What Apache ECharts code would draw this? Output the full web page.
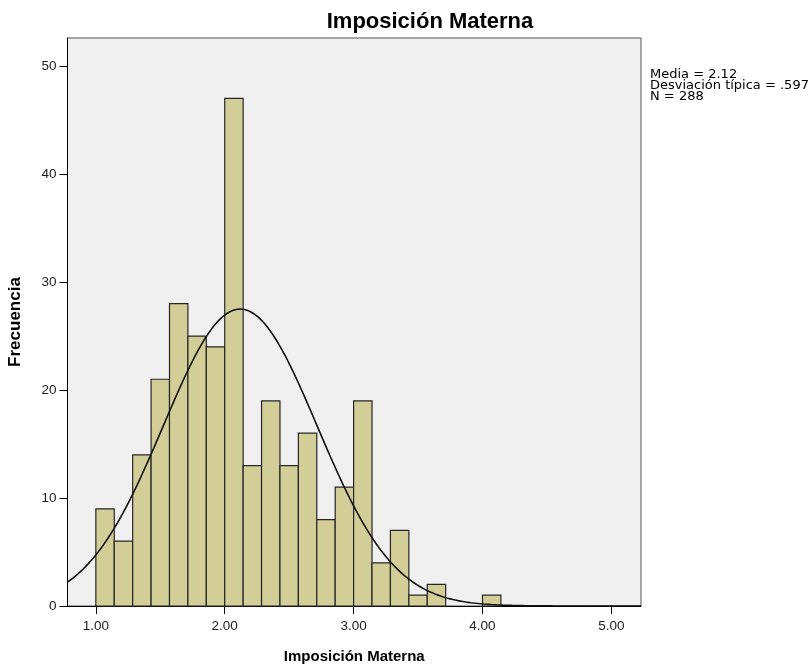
<!DOCTYPE html>
<html>
<head>
<meta charset="utf-8">
<script src="https://cdn.jsdelivr.net/npm/echarts@6/dist/echarts.min.js"></script>
<style>
html,body{margin:0;padding:0;background:#fff;}
#c{width:811px;height:667px;}
</style>
</head>
<body>
<div id="c"></div>
<script>
// ---- data ----
const chartTitle = 'Imposición Materna';
const xName = 'Imposición Materna';
const yName = 'Frecuencia';
const binStart = 1.0;
const binWidth = 1 / 7;
const counts = [9, 6, 14, 21, 28, 25, 24, 47, 13, 19, 13, 16, 8, 11, 19, 4, 7, 1, 2, 0, 0, 1];
const xTicks = [1, 2, 3, 4, 5];
const yTicks = [0, 10, 20, 30, 40, 50];
const statLines = ['Media = 2.12', 'Desviación típica = .597', 'N = 288'];
const mean = 2.12, sd = 0.597, nTotal = 288;
const xMin = 0.78, xMax = 5.23, yMax = 52.6;

// histogram bars: [lowEdge, highEdge, count]
const barData = counts.map((c, i) => [binStart + i * binWidth, binStart + (i + 1) * binWidth, c]).filter(d => d[2] > 0);

// fitted normal curve from the stated mean / sd / N
const curve = [];
for (let k = 0; k <= 445; k++) {
  const x = xMin + k * 0.01;
  const z = (x - mean) / sd;
  curve.push([x, nTotal * binWidth * Math.exp(-0.5 * z * z) / (sd * Math.sqrt(2 * Math.PI))]);
}

const chart = echarts.init(document.getElementById('c'), null, {renderer: 'canvas'});
const FONT = '"Liberation Sans", Arial, sans-serif';
chart.setOption({
  animation: false,
  backgroundColor: '#ffffff',
  title: {
    text: chartTitle, left: 425, top: 6, textAlign: 'center',
    textStyle: {fontFamily: FONT, fontWeight: 'bold', fontSize: 22, color: '#000'}
  },
  grid: {left: 67.5, right: 170, top: 38, bottom: 61, outerBoundsMode: 'none', containLabel: false, show: true, backgroundColor: '#f0f0f0', borderColor: '#555', borderWidth: 1},
  xAxis: {
    type: 'value', min: xMin, max: xMax,
    name: xName, nameLocation: 'middle', nameGap: 43,
    nameTextStyle: {fontFamily: FONT, fontWeight: 'bold', fontSize: 15, color: '#000'},
    axisLine: {show: true, onZero: false, lineStyle: {color: '#000', width: 1}},
    axisTick: {show: true, length: 8, customValues: xTicks, lineStyle: {color: '#000'}},
    axisLabel: {customValues: xTicks, margin: 13, fontFamily: FONT, fontSize: 13.5, color: '#222', formatter: v => v.toFixed(2)},
    splitLine: {show: false}
  },
  yAxis: {
    type: 'value', min: 0, max: yMax,
    name: yName, nameLocation: 'middle', nameGap: 44, nameRotate: 90,
    nameTextStyle: {fontFamily: FONT, fontWeight: 'bold', fontSize: 17, color: '#000'},
    axisLine: {show: true, lineStyle: {color: '#000', width: 1}},
    axisTick: {show: true, length: 8, customValues: yTicks, lineStyle: {color: '#000'}},
    axisLabel: {customValues: yTicks, margin: 11, fontFamily: FONT, fontSize: 13.5, color: '#222'},
    splitLine: {show: false}
  },
  series: [
    {
      type: 'custom',
      data: barData,
      renderItem: function (params, api) {
        const p0 = api.coord([api.value(0), api.value(2)]);
        const p1 = api.coord([api.value(1), 0]);
        return {
          type: 'rect',
          shape: {x: p0[0], y: p0[1], width: p1[0] - p0[0], height: p1[1] - p0[1]},
          style: {fill: '#d3ce97', stroke: '#262626', lineWidth: 1.2}
        };
      },
      encode: {x: [0, 1], y: 2}
    },
    {
      type: 'line', data: curve, showSymbol: false, smooth: false,
      lineStyle: {color: '#111', width: 1.6}, z: 5
    }
  ],
  graphic: [{
    type: 'text', left: 650, top: 68,
    style: {text: statLines.join('\n'), font: '13px "DejaVu Sans", sans-serif', fill: '#000', lineHeight: 11}
  }]
});
</script>
</body>
</html>
